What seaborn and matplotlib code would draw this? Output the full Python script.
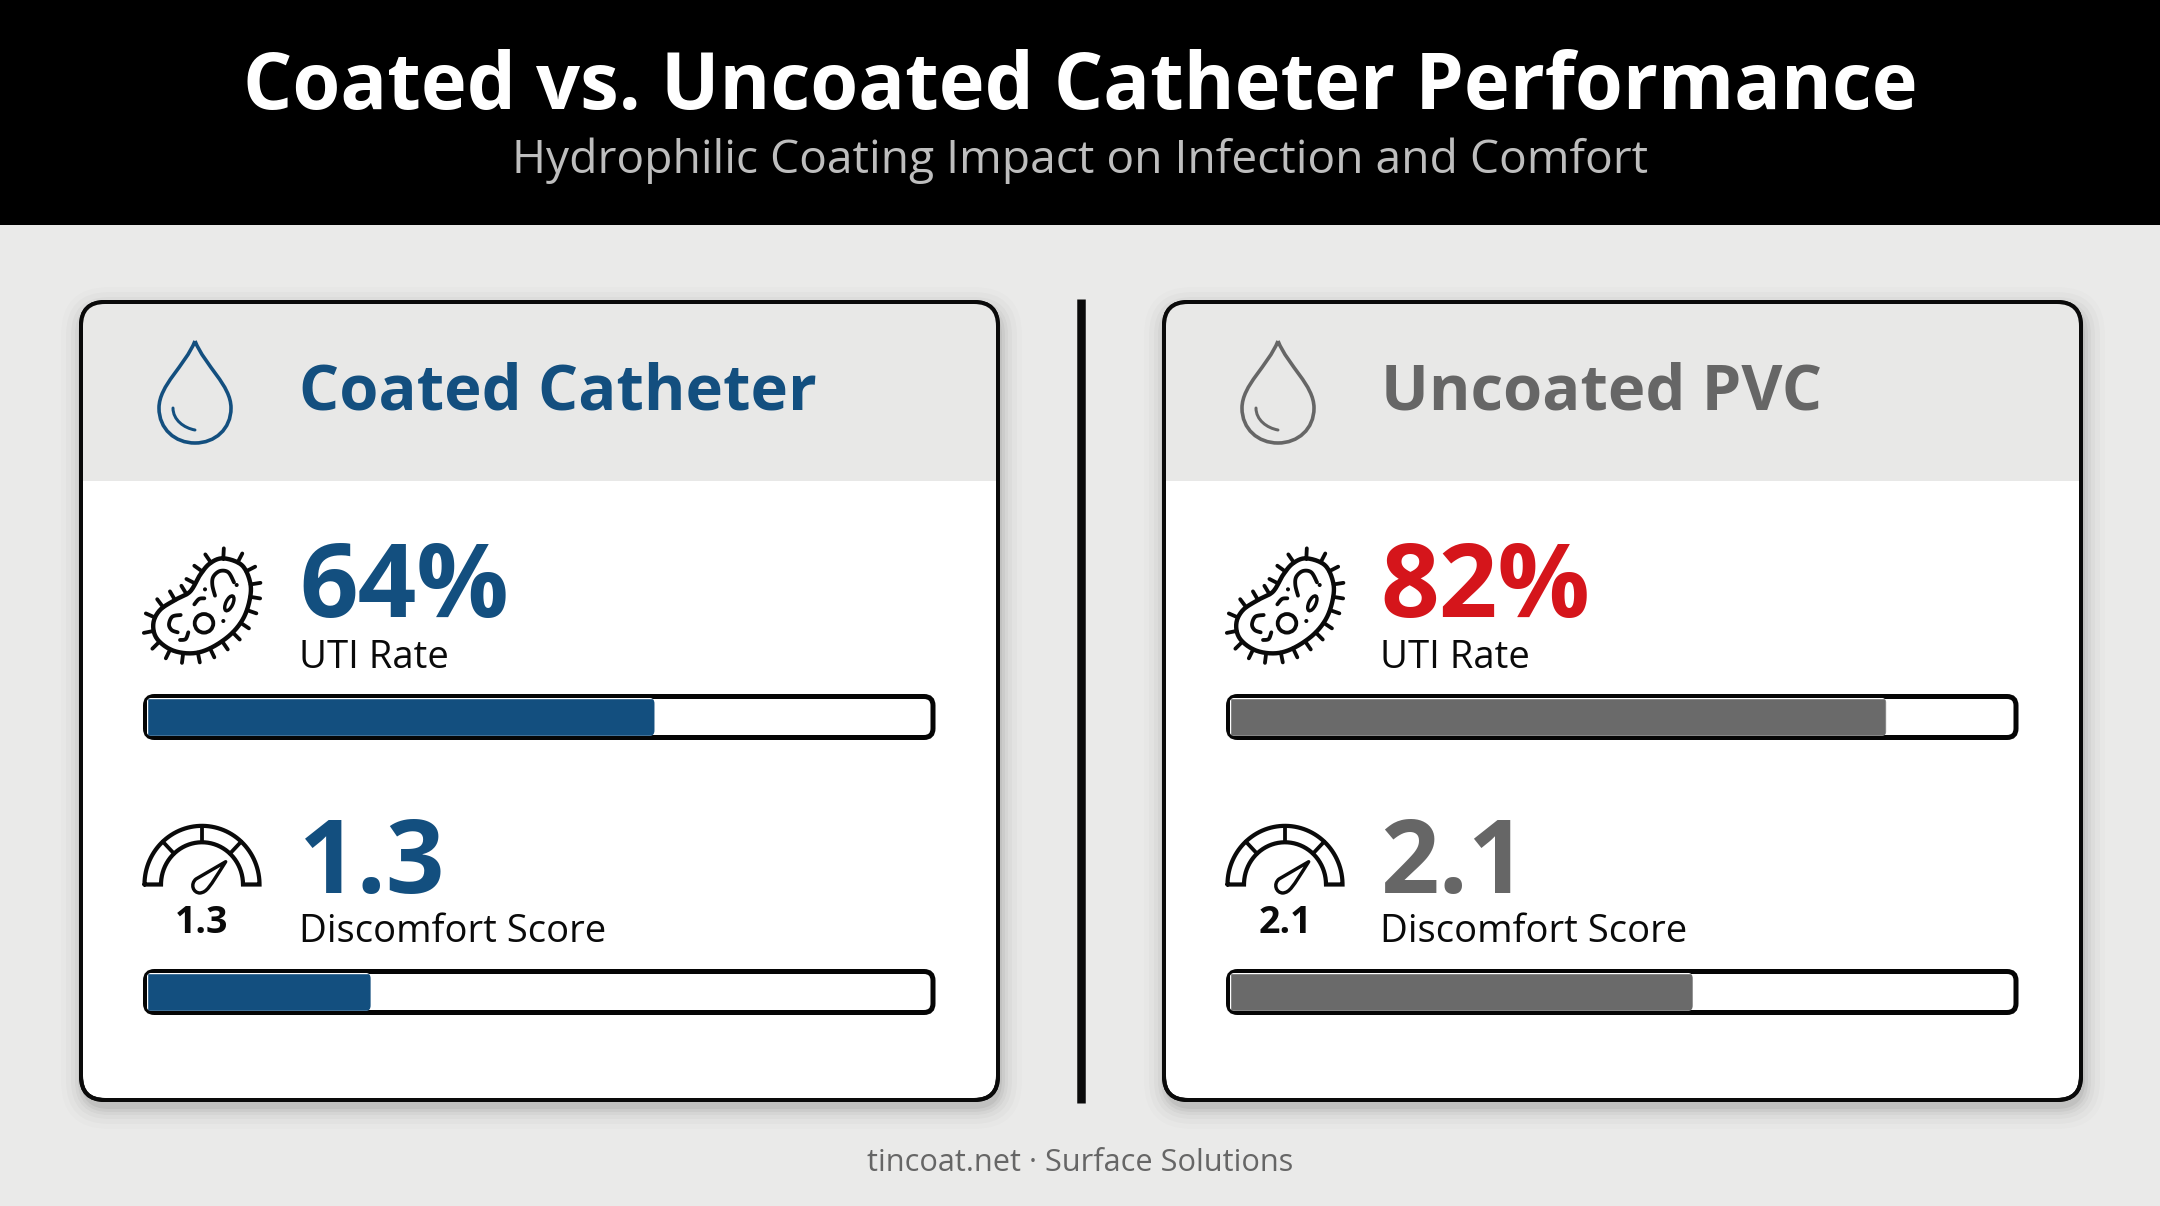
import numpy as np
import pandas as pd
import matplotlib
matplotlib.use("Agg")
import matplotlib.pyplot as plt
from matplotlib.patches import FancyBboxPatch, Rectangle, PathPatch, Circle, Ellipse
from matplotlib.path import Path
from matplotlib.transforms import IdentityTransform
import seaborn as sns

# ---------- chart content ----------
title = "Coated vs. Uncoated Catheter Performance"
subtitle = "Hydrophilic Coating Impact on Infection and Comfort"
footer = "tincoat.net · Surface Solutions"
panels = ["Coated Catheter", "Uncoated PVC"]
metric_labels = ["UTI Rate", "Discomfort Score"]
uti_text = ["64%", "82%"]
score_text = ["1.3", "2.1"]
# bar lengths (percent of each track)
uti_fill = [64.8, 83.8]
score_fill = [28.6, 59.1]

# ---------- styling ----------
NAVY, GREY, RED, INK = "#134F7F", "#666666", "#D5151B", "#0A0A0A"
BG, BAND = "#EAEAE9", "#E8E8E7"
head_colors = [NAVY, GREY]
uti_colors = [NAVY, RED]
bar_colors = [NAVY, "#6A6A6A"]
score_colors = [NAVY, GREY]
offsets = [0, 1083]
W, H = 2160, 1206

sns.set_style("white")
plt.rcParams["font.family"] = ["Open Sans", "DejaVu Sans"]

fig = plt.figure(figsize=(W / 100, H / 100), dpi=100, facecolor=BG)
bg = fig.add_axes([0, 0, 1, 1])
bg.set_xlim(0, W)
bg.set_ylim(H, 0)
bg.axis("off")
LW = 100 / 72  # px per point


def catmull(p, closed=True, n=12):
    p = np.asarray(p, float)
    if not closed:
        p = np.vstack([p[0], p, p[-1]])
    out = []
    m = len(p)
    rng = range(m) if closed else range(1, m - 2)
    for i in rng:
        p0, p1, p2, p3 = p[i - 1], p[i], p[(i + 1) % m], p[(i + 2) % m]
        for t in np.linspace(0, 1, n, endpoint=False):
            out.append(0.5 * (2 * p1 + (p2 - p0) * t + (2 * p0 - 5 * p1 + 4 * p2 - p3) * t**2
                              + (3 * p1 - p0 - 3 * p2 + p3) * t**3))
    if not closed:
        out.append(p[-2])
    return np.array(out)


def zb(pts):
    # icon sketch units -> picture pixels
    return [(135 + x / 3, 535 + y / 3) for x, y in pts]


def draw_droplet(dx, color):
    verts = [(195, 341), (185, 366), (159, 385), (159, 408), (159, 429), (175, 443), (195, 443),
             (215, 443), (231, 429), (231, 408), (231, 385), (205, 366), (195, 341)]
    codes = [Path.MOVETO] + [Path.CURVE4] * 12
    bg.add_patch(PathPatch(Path([(x + dx, y) for x, y in verts], codes), fc="none", ec=color,
                           lw=3.6 / LW, joinstyle="miter", zorder=5))
    hl = [(173, 408), (173, 420), (184, 428), (195, 430)]
    bg.add_patch(PathPatch(Path([(x + dx, y) for x, y in hl], [Path.MOVETO] + [Path.CURVE4] * 3),
                           fc="none", ec=color, lw=3 / LW, capstyle="round", zorder=5))


def draw_bacterium(dx):
    outline = [(265, 70), (320, 90), (345, 140), (345, 190), (325, 250), (285, 300), (225, 340),
               (170, 355), (110, 345), (65, 310), (55, 265), (75, 225), (120, 195), (165, 170),
               (195, 120), (225, 85)]
    body = catmull(zb(outline))
    closed = np.vstack([body, body[:1]])
    bg.plot(closed[:, 0] + dx, closed[:, 1], color=INK, lw=4.4 / LW, zorder=5, solid_joinstyle="round")
    area = 0.5 * np.sum(closed[:-1, 0] * closed[1:, 1] - closed[1:, 0] * closed[:-1, 1])
    sign = 1 if area > 0 else -1
    seg = np.linalg.norm(np.diff(closed, axis=0), axis=1)
    s = np.r_[0, np.cumsum(seg)]
    for d in np.linspace(0, s[-1], 22, endpoint=False):
        i = np.searchsorted(s, d) % len(body)
        t = body[(i + 1) % len(body)] - body[i - 1]
        nrm = sign * np.array([t[1], -t[0]]) / np.linalg.norm(t)
        a, b = body[i], body[i] + nrm * 10
        bg.plot([a[0] + dx, b[0] + dx], [a[1], b[1]], color=INK, lw=3.8 / LW, zorder=5, solid_capstyle="round")
    # organelles
    cx, cy = zb([(207, 265)])[0]
    bg.add_patch(Circle((cx + dx, cy), 9.3, fc="none", ec=INK, lw=3.8 / LW, zorder=6))
    ox, oy = zb([(283, 205)])[0]
    bg.add_patch(Ellipse((ox + dx, oy), 7, 16, angle=25, fc="none", ec=INK, lw=3.4 / LW, zorder=6))
    doodles = [
        [(240, 182), (232, 150), (235, 125), (255, 108), (280, 112), (297, 142)],
        [(137, 240), (112, 245), (102, 268), (110, 285), (128, 292)],
        [(135, 315), (152, 312), (160, 292)],
        [(178, 208), (192, 192), (208, 190)],
    ]
    for d in doodles:
        c = np.array(catmull(zb(d), closed=False))
        bg.plot(c[:, 0] + dx, c[:, 1], color=INK, lw=3.8 / LW, zorder=6,
                solid_capstyle="round", solid_joinstyle="round")
    for dot in [(210, 163), (305, 150), (265, 258)]:
        px, py = zb([dot])[0]
        bg.add_patch(Circle((px + dx, py), 2, fc=INK, ec="none", zorder=6))


def draw_gauge(dx, text):
    cx, cy, R, r = 202 + dx, 884.5, 57.5, 41
    th = np.linspace(np.pi, 0, 120)
    xs = np.r_[cx + R * np.cos(th), cx + r * np.cos(th[::-1]), cx - R]
    ys = np.r_[cy - R * 1.02 * np.sin(th), cy - r * 1.03 * np.sin(th[::-1]), cy]
    bg.plot(xs, ys, color=INK, lw=4.2 / LW, zorder=5, solid_joinstyle="miter")
    for ang in np.radians([47, 90, 133]):
        bg.plot([cx + r * np.cos(ang), cx + R * np.cos(ang)],
                [cy - r * 1.03 * np.sin(ang), cy - R * 1.02 * np.sin(ang)], color=INK, lw=3.8 / LW, zorder=5)
    nv = [(225.7, 861.7), (196, 879), (190, 884), (193, 893), (200, 893), (207, 892), (209, 888), (225.7, 861.7),
          (225.7, 861.7)]
    codes = [Path.MOVETO, Path.LINETO, Path.CURVE4, Path.CURVE4, Path.CURVE4, Path.CURVE4, Path.CURVE4,
             Path.LINETO, Path.CLOSEPOLY]
    bg.add_patch(PathPatch(Path([(x + dx, y) for x, y in nv], codes), fc="none", ec=INK, lw=3.4 / LW,
                           joinstyle="round", zorder=5))
    bg.text(cx, 933, text, ha="center", va="baseline", fontsize=27, fontweight="bold", color=INK, zorder=6)


def rounded(x0, y0, x1, y1, r, **kw):
    return FancyBboxPatch((x0 + r, y0 + r), x1 - x0 - 2 * r, y1 - y0 - 2 * r,
                          boxstyle=f"round,pad={r},rounding_size={r}", **kw)


def draw_bar(dx, y0, y1, value, color, name):
    # track
    bg.add_patch(rounded(145.5 + dx, y0, 933 + dx, y1, 9, fc="white", ec="#050505", lw=5 / LW, zorder=4))
    # fill, drawn through seaborn on its own axes running 0..100 along the track
    ix0, ix1, iy0, iy1 = 146.5 + dx, 930.5 + dx, y0 + 1.2, y1 - 1.2
    ax = fig.add_axes([ix0 / W, 1 - iy1 / H, (ix1 - ix0) / W, (iy1 - iy0) / H], zorder=3)
    df = pd.DataFrame({"metric": [name], "value": [value]})
    sns.barplot(data=df, x="value", y="metric", orient="h", color=color, saturation=1, width=1, ax=ax)
    ax.set_xlim(0, 100)
    ax.set_ylim(0.5, -0.5)
    ax.axis("off")
    ax.patch.set_alpha(0)
    fig.canvas.draw()
    for bar in ax.patches:
        e = bar.get_window_extent()
        clip = rounded(e.x0, e.y0, e.x1, e.y1, 6, transform=IdentityTransform(), fc="none", ec="none")
        bar.set_clip_path(clip)


# ---------- header ----------
bg.add_patch(Rectangle((0, 0), W, 225, fc="black", ec="none", zorder=1))
bg.text(W / 2, 109, title, ha="center", va="baseline", fontsize=55.8, fontweight="bold", color="white", zorder=2)
bg.text(W / 2, 173, subtitle, ha="center", va="baseline", fontsize=33.2, color="#BEBEBE", zorder=2)

# ---------- divider ----------
bg.plot([1080.5, 1080.5], [299, 1103], color="#0A0A0A", lw=8.5 / LW, solid_capstyle="butt", zorder=2)

# ---------- cards ----------
for i, dx in enumerate(offsets):
    x0, x1, y0, y1 = 81 + dx, 998 + dx, 302, 1100
    tx = dx - (1 if i else 0)
    nx = dx - (2 if i else 0)
    for grow, alpha in zip([22, 17, 12, 8, 5, 2], [0.012, 0.018, 0.025, 0.03, 0.04, 0.05]):
        bg.add_patch(rounded(x0 - grow + 2, y0 - grow + 7, x1 + grow + 2, y1 + grow + 7, 26 + grow,
                             fc="black", ec="none", alpha=alpha, zorder=1.5))
    bg.add_patch(rounded(x0, y0, x1, y1, 24, fc="white", ec="#0A0A0A", lw=4 / LW, zorder=2.5))
    band = Rectangle((x0, y0), x1 - x0, 179, fc=BAND, ec="none", zorder=2.6)
    bg.add_patch(band)
    band.set_clip_path(rounded(x0, y0, x1, y1, 24, transform=bg.transData, fc="none", ec="none"))
    bg.add_patch(rounded(x0, y0, x1, y1, 24, fc="none", ec="#0A0A0A", lw=4 / LW, zorder=2.7))

    draw_droplet(dx, head_colors[i])
    bg.text(299 + tx, 409, panels[i], ha="left", va="baseline", fontsize=45.5, fontweight="bold",
            color=head_colors[i], zorder=6)

    draw_bacterium(dx)
    bg.text(299 + nx, 617, uti_text[i], ha="left", va="baseline", fontsize=74, fontweight="bold",
            color=uti_colors[i], zorder=6)
    bg.text(299 + nx, 668, metric_labels[0], ha="left", va="baseline", fontsize=27.5, color=INK, zorder=6)
    draw_bar(dx, 696.5, 737.5, uti_fill[i], bar_colors[i], metric_labels[0])

    draw_gauge(dx, score_text[i])
    bg.text(299 + nx, 893, score_text[i], ha="left", va="baseline", fontsize=74, fontweight="bold",
            color=score_colors[i], zorder=6)
    bg.text(299 + nx, 942, metric_labels[1], ha="left", va="baseline", fontsize=27.5, color=INK, zorder=6)
    draw_bar(dx, 971.5, 1012.5, score_fill[i], bar_colors[i], metric_labels[1])

# ---------- footer ----------
bg.text(W / 2, 1171, footer, ha="center", va="baseline", fontsize=22.1, color=GREY, zorder=2)

fig.savefig("out.png", dpi=100, facecolor=BG)
